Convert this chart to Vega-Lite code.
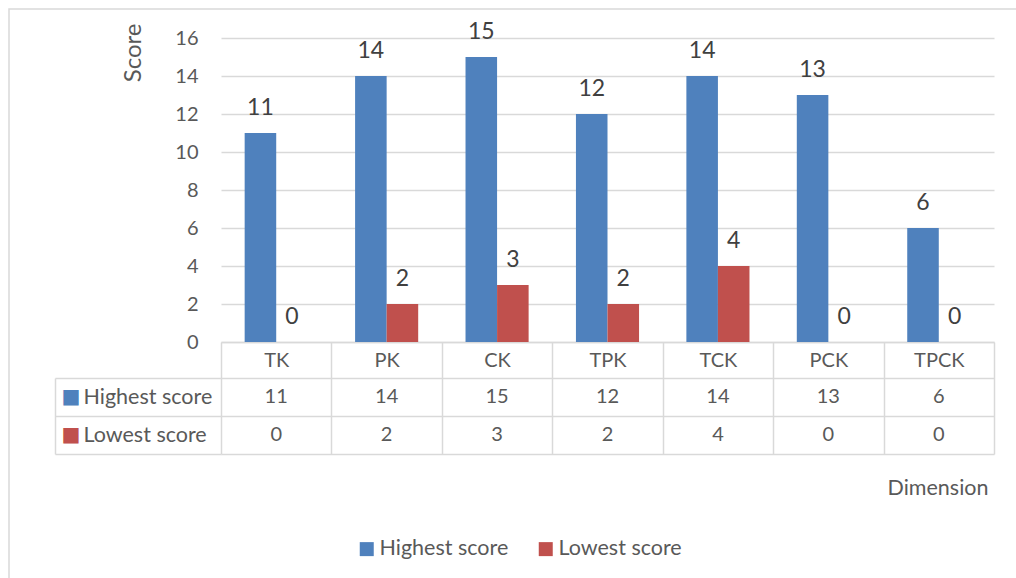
{
  "$schema": "https://vega.github.io/schema/vega-lite/v6.json",
  "width": 1016,
  "height": 578,
  "autosize": {"type": "none"},
  "padding": {"left": 9, "top": 9, "right": 0, "bottom": 0},
  "background": "#ffffff",
  "config": {
    "view": {"stroke": "#d9d9d9", "strokeWidth": 1.5},
    "font": "Lato",
    "axis": {"labelFont": "Lato", "titleFont": "Lato", "titleFontWeight": "normal"},
    "legend": {"labelFont": "Lato"}
  },
  "data": {
    "values": [
      {"dim": "TK", "series": "Highest score", "score": 11},
      {"dim": "TK", "series": "Lowest score", "score": 0},
      {"dim": "PK", "series": "Highest score", "score": 14},
      {"dim": "PK", "series": "Lowest score", "score": 2},
      {"dim": "CK", "series": "Highest score", "score": 15},
      {"dim": "CK", "series": "Lowest score", "score": 3},
      {"dim": "TPK", "series": "Highest score", "score": 12},
      {"dim": "TPK", "series": "Lowest score", "score": 2},
      {"dim": "TCK", "series": "Highest score", "score": 14},
      {"dim": "TCK", "series": "Lowest score", "score": 4},
      {"dim": "PCK", "series": "Highest score", "score": 13},
      {"dim": "PCK", "series": "Lowest score", "score": 0},
      {"dim": "TPCK", "series": "Highest score", "score": 6},
      {"dim": "TPCK", "series": "Lowest score", "score": 0}
    ]
  },
  "layer": [
    {
      "layer": [
        {
          "mark": {"type": "bar"},
          "encoding": {
            "x": {
              "field": "dim", "type": "nominal", "sort": null,
              "scale": {"range": [212, 985], "paddingInner": 0, "paddingOuter": 0},
              "axis": {
                "orient": "bottom", "offset": -245,
                "domain": true, "domainColor": "#d9d9d9", "domainWidth": 1.5,
                "ticks": true, "tickBand": "extent", "tickSize": 112, "tickColor": "#d9d9d9", "tickWidth": 1.5,
                "grid": false,
                "labelAngle": 0, "labelBaseline": "middle", "labelPadding": -94,
                "labelFontSize": 20, "labelColor": "#595959",
                "title": "Dimension", "titleFontSize": 21.5, "titleColor": "#595959",
                "titleAlign": "right", "titleBaseline": "alphabetic",
                "titleX": 979, "titleY": 152
              }
            },
            "xOffset": {
              "field": "series", "type": "nominal", "sort": ["Highest score", "Lowest score"],
              "scale": {"paddingInner": 0, "paddingOuter": 0.75}
            },
            "y": {
              "field": "score", "type": "quantitative",
              "scale": {"domain": [0, 16], "range": [333, 29], "nice": false},
              "axis": {
                "orient": "left", "offset": -212,
                "values": [0, 2, 4, 6, 8, 10, 12, 14, 16],
                "domain": false, "ticks": false,
                "grid": true, "gridColor": "#d9d9d9", "gridWidth": 1.5,
                "labelPadding": 23, "labelFontSize": 20, "labelColor": "#595959",
                "title": "Score", "titleFontSize": 24, "titleColor": "#595959",
                "titleAngle": -90, "titleAlign": "right", "titleBaseline": "middle",
                "titleX": -88, "titleY": 14
              }
            },
            "color": {
              "field": "series", "type": "nominal", "sort": ["Highest score", "Lowest score"],
              "scale": {"range": ["#4f81bd", "#c0504d"]},
              "legend": {
                "title": null, "orient": "none", "direction": "horizontal",
                "legendX": 347, "legendY": 529, "padding": 0,
                "symbolType": "square", "symbolSize": 196, "symbolStrokeWidth": 0,
                "labelFontSize": 21.5, "labelColor": "#595959", "labelOffset": 2,
                "columnPadding": 26
              }
            }
          }
        },
        {
          "mark": {"type": "text", "baseline": "alphabetic", "dy": -18, "fontSize": 23, "color": "#404040"},
          "encoding": {
            "x": {"field": "dim", "type": "nominal", "sort": null},
            "xOffset": {"field": "series", "type": "nominal", "sort": ["Highest score", "Lowest score"]},
            "y": {"field": "score", "type": "quantitative"},
            "text": {"field": "score", "type": "quantitative"}
          }
        }
      ]
    },
    {
      "layer": [
        {
          "mark": {"type": "text", "baseline": "middle", "fontSize": 20, "color": "#595959"},
          "encoding": {
            "x": {"field": "dim", "type": "nominal", "sort": null},
            "y": {
              "field": "series", "type": "nominal", "sort": ["Highest score", "Lowest score"],
              "scale": {"range": [369, 445], "paddingInner": 0, "paddingOuter": 0},
              "axis": {
                "orient": "left", "offset": -46, "title": null,
                "domain": true, "domainColor": "#d9d9d9", "domainWidth": 1.5,
                "ticks": true, "tickBand": "extent", "tickSize": -166, "tickColor": "#d9d9d9", "tickWidth": 1.5,
                "grid": true, "gridColor": "#d9d9d9", "gridWidth": 1.5,
                "labelAlign": "left", "labelBaseline": "middle", "labelPadding": 138,
                "labelFontSize": 21.5, "labelColor": "#595959"
              }
            },
            "text": {"field": "score", "type": "quantitative"}
          }
        },
        {
          "mark": {"type": "text", "opacity": 0},
          "encoding": {
            "y": {
              "field": "series", "type": "nominal", "sort": ["Highest score", "Lowest score"],
              "axis": {
                "orient": "left", "offset": -46, "title": null,
                "domain": false, "ticks": false, "grid": false,
                "labelExpr": "'■'", "labelFont": "DejaVu Sans",
                "labelAlign": "left", "labelBaseline": "middle", "labelPadding": -6,
                "labelFontSize": 20,
                "labelColor": {"condition": {"test": "datum.value === 'Highest score'", "value": "#4f81bd"}, "value": "#c0504d"}
              }
            },
            "text": {"value": ""}
          }
        }
      ],
      "resolve": {"axis": {"y": "independent"}}
    }
  ],
  "resolve": {"scale": {"y": "independent"}, "axis": {"y": "independent"}}
}
